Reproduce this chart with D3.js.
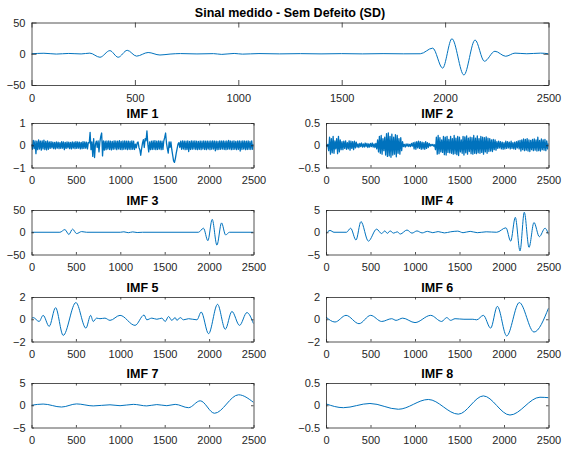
<!DOCTYPE html>
<html>
<head>
<meta charset="utf-8">
<style>
  body { margin: 0; background: #fff; }
  svg { display: block; }
</style>
</head>
<body>
<div id="chart"></div>
<script src="https://d3js.org/d3.v7.min.js"></script>
<script>
// ---- data ----
var xTicks = [0, 500, 1000, 1500, 2000, 2500];

var sdTicks = [-50, 0, 50];
var imf1Ticks = [-1, 0, 1];
var imf2Ticks = [-0.5, 0, 0.5];
var imf3Ticks = [-50, 0, 50];
var imf4Ticks = [-5, 0, 5];
var imf5Ticks = [-2, 0, 2];
var imf6Ticks = [-2, 0, 2];
var imf7Ticks = [-5, 0, 5];
var imf8Ticks = [-0.5, 0, 0.5];

// measured signal: [sample, value]
var sdSignal = [[0,0],[60,0.8],[120,-0.5],[180,0.5],[240,-0.3],[282,1],[331,-5.6],[379,5],[419,-5.6],[463,5.5],
  [508,-3.8],[564,2],[621,-2],[670,-0.5],[720,0.3],[800,-0.3],[880,0.2],[920,-1],[980,0.5],[1020,-0.6],
  [1100,0.3],[1200,-0.2],[1300,0.2],[1400,-0.2],[1500,0.2],[1600,-0.2],[1700,0.2],[1800,-0.1],[1880,0],
  [1940,9],[1988,-23],[2033,24],[2091,-34],[2145,22],[2190,-12],[2241,4],[2293,-4],[2338,1],[2395,0],
  [2462,1],[2500,0]];

// IMF 1 and IMF 2 are noisy, read every 10 samples
var noiseStep = 10;
var imf1 = [0.05,-0.18,0.22,-0.15,0.2,-0.38,0.18,-0.2,0.24,-0.17,
  0.19,-0.22,0.2,-0.16,0.23,-0.19,0.17,-0.21,0.2,-0.18,
  0.15,-0.14,0.16,-0.12,0.14,-0.15,0.13,-0.16,0.15,-0.13,
  0.14,-0.15,0.12,-0.14,0.16,-0.13,0.15,-0.2,0.13,-0.14,
  0.15,-0.12,0.14,-0.15,0.13,-0.16,0.15,-0.13,0.14,-0.15,
  0.16,-0.14,0.15,-0.13,0.14,-0.16,0.13,-0.15,0.16,-0.14,
  0.15,-0.13,0.14,-0.16,0.12,
  0.1,0.58,-0.2,0.15,-0.5,0.3,-0.55,0.05,0.18,-0.1,
  0.2,-0.3,0.15,0.4,0.55,-0.48,0.2,-0.22,
  0.18,-0.2,0.19,-0.17,0.2,-0.19,0.18,-0.21,0.17,-0.18,
  0.2,-0.17,0.19,-0.2,0.18,-0.16,0.21,-0.19,0.17,-0.2,
  0.19,-0.18,0.2,-0.17,0.18,-0.2,0.19,-0.18,0.17,-0.19,
  0.2,-0.18,0.18,-0.19,
  0.05,-0.12,0.1,0.15,-0.1,-0.2,-0.45,-0.15,0.1,0.25,
  -0.1,0.3,0.2,0.65,0.05,-0.3,0.15,-0.2,0.18,
  -0.19,0.2,-0.18,0.21,-0.2,0.18,-0.19,0.2,-0.17,0.19,-0.2,0.18,-0.19,
  0.2,0.35,0.55,0.1,-0.15,-0.35,0.15,
  -0.1,0.15,-0.2,-0.45,-0.7,-0.77,-0.6,-0.35,-0.15,0.05,0.12,-0.1,0.18,
  -0.18,0.2,-0.17,0.19,-0.2,0.18,-0.19,0.2,-0.28,0.17,
  -0.19,0.2,-0.18,0.19,-0.17,0.2,-0.19,0.18,-0.2,0.17,
  -0.18,0.19,-0.2,0.18,-0.17,0.2,-0.19,0.18,-0.2,0.19,
  -0.17,0.18,-0.2,0.19,-0.18,0.2,-0.17,0.19,-0.25,0.18,
  -0.2,0.17,-0.19,0.2,-0.18,0.19,-0.17,0.2,-0.19,0.18,
  -0.2,0.19,-0.18,0.22,-0.17,0.19,-0.2,0.18,-0.19,0.2,
  -0.18,0.17,-0.2,0.19,-0.18,0.2,-0.26,0.18,-0.19,0.2,
  -0.17,0.19,-0.2,0.18,-0.19,0.2,-0.18,0.17,-0.19,0.2,
  -0.18,0.05];

var imf2 = [0.01,-0.02,0.02,
  -0.12,0.18,-0.2,0.15,-0.17,0.2,-0.18,0.1,-0.08,0.15,-0.19,0.2,-0.15,0.12,-0.1,
  0.08,-0.1,0.09,-0.07,0.1,-0.09,0.06,-0.08,0.1,-0.11,0.09,-0.07,0.08,-0.1,0.09,-0.06,0.07,
  -0.04,0.03,-0.05,0.04,-0.03,0.05,-0.04,0.03,-0.04,0.05,-0.03,0.04,-0.05,0.03,-0.04,0.04,-0.03,0.05,-0.04,0.03,-0.05,0.04,
  -0.08,0.12,-0.15,0.2,-0.18,0.22,-0.2,0.15,-0.12,0.18,
  -0.22,0.26,-0.25,0.28,-0.24,0.2,-0.27,0.25,-0.22,0.18,
  -0.2,0.24,-0.26,0.22,-0.18,0.15,-0.2,0.17,-0.12,0.08,
  -0.03,0.02,-0.04,0.03,-0.02,0.03,-0.03,0.02,-0.03,0.04,-0.02,
  0.06,-0.08,0.07,-0.09,0.08,-0.06,0.09,-0.07,0.08,-0.09,0.07,-0.08,0.06,-0.09,0.08,-0.07,0.06,-0.05,0.04,
  -0.02,0.02,-0.01,0.02,-0.02,0.01,
  -0.1,0.18,-0.2,0.22,-0.19,0.17,-0.15,0.12,-0.16,0.2,
  -0.21,0.18,-0.22,0.2,-0.16,0.13,-0.17,0.2,-0.18,0.15,
  -0.2,0.22,-0.19,0.16,-0.21,0.2,-0.23,0.18,-0.15,0.12,
  -0.18,0.2,-0.22,0.19,-0.17,0.21,-0.2,0.16,-0.14,0.18,
  -0.19,
  0.17,-0.2,0.22,-0.18,0.16,-0.19,0.21,-0.17,0.15,-0.18,
  0.2,-0.16,0.18,-0.2,0.17,-0.15,0.19,-0.18,0.16,-0.14,
  0.15,-0.13,0.12,-0.14,0.13,-0.1,0.12,-0.11,
  0.08,-0.07,0.09,-0.06,0.08,-0.08,0.07,-0.09,0.06,-0.08,
  0.09,-0.07,0.08,-0.06,0.07,-0.08,0.09,-0.07,0.06,-0.08,
  0.07,-0.09,0.08,-0.06,0.1,-0.08,
  0.11,-0.13,0.12,-0.1,0.14,-0.12,0.13,-0.11,0.15,-0.13,
  0.12,-0.14,0.11,-0.1,0.13,-0.12,0.14,-0.11,0.12,-0.13,
  0.18,-0.12,0.11,-0.13,0.14,-0.1,0.12,-0.11,0.13,-0.12,
  0.1,-0.08,0.04];

// smoother IMFs: [sample, value] at peaks / troughs
var imf3 = [[0,0],[320,0],[376,6],[421,-5],[462,7],[508,-3],[564,1.5],[620,0],[1000,0],[1040,1],
  [1090,-1],[1140,0.8],[1190,-0.6],[1250,0],[1880,0],[1937,9],[1986,-19],[2035,29],[2088,-29],
  [2140,21],[2186,-6],[2230,0],[2500,0]];

var imf4 = [[0,-0.3],[45,0.4],[90,0],[230,0],[277,0.9],[337,-1.75],[393,2.4],[476,-2.0],[569,0.7],
  [625,-0.3],[660,0.3],[690,-0.25],[720,0.3],[760,-0.2],[800,0.1],[835,-0.4],[910,0.5],[966,-0.2],
  [1022,0.3],[1080,-0.15],[1140,0.2],[1200,-0.1],[1260,0.15],[1330,-0.15],[1400,0.1],[1480,0.25],
  [1540,-0.1],[1620,0.2],[1700,-0.1],[1800,0.1],[1918,0],[2022,1.0],[2075,-2.0],[2127,3.35],
  [2180,-4.2],[2228,4.5],[2281,-3.4],[2337,2.2],[2397,-1.0],[2461,0.9],[2500,-0.5]];

var imf5 = [[0,0.05],[19,0.15],[86,-0.2],[131,0.35],[199,-0.64],[271,1.04],[357,-1.45],[500,1.5],
  [613,-0.8],[666,0.35],[695,-0.2],[733,0.1],[771,0.05],[827,0.1],[884,-0.1],[997,0.35],[1166,-0.55],
  [1268,0.38],[1298,-0.05],[1355,0.1],[1411,0],[1468,0.1],[1506,-0.2],[1543,0.25],[1580,-0.1],
  [1618,0.15],[1637,-0.1],[1675,0.15],[1712,-0.05],[1769,0.05],[1863,-0.05],[1911,0.65],[1994,-1.3],
  [2095,1.34],[2182,-0.9],[2257,0.7],[2343,-0.55],[2426,0.6],[2500,-0.4]];

var imf6 = [[0,0.2],[101,-0.25],[225,0.35],[371,-0.4],[502,0.35],[626,-0.2],[738,0.05],[787,-0.1],
  [862,0.1],[1000,-0.3],[1176,0.35],[1300,-0.2],[1356,0.15],[1401,-0.1],[1450,0.05],[1550,0],
  [1650,0],[1693,-0.05],[1768,0.35],[1850,-0.8],[1925,1.16],[2030,-1.5],[2172,1.5],[2337,-1.15],
  [2500,1.0]];

var imf7 = [[0,0],[131,0.27],[338,-0.4],[508,0.3],[695,-0.15],[884,0.1],[997,-0.1],[1147,0.2],
  [1298,-0.15],[1411,0.15],[1524,-0.1],[1618,0.2],[1768,-0.55],[1900,1.0],[2061,-1.8],[2332,2.35],
  [2500,0.65]];

var imf8 = [[0,0.03],[195,-0.055],[494,0.04],[813,-0.09],[1150,0.13],[1487,-0.2],[1768,0.21],
  [2067,-0.22],[2404,0.18],[2500,0.17]];

// ---- layout ----
var W = 563, H = 450;
var font = "'Liberation Sans', Arial, Helvetica, sans-serif";
var axisColor = "#262626";
var lineColor = "#0072BD";

var colL = [31.5, 253.5], colR = [326, 548.5];
var rowTop = [123, 210, 297, 383], rowH = 44.5;

function toPairs(arr) {
  return arr.map(function(v, i) { return [i * noiseStep, v]; });
}

var panels = [
  {title: "Sinal medido - Sem Defeito (SD)", data: sdSignal, yt: sdTicks, x: [31.5, 548.5], y: [22.5, 85], tick: 5, curve: d3.curveMonotoneX, sw: 1},
  {title: "IMF 1", data: toPairs(imf1), yt: imf1Ticks, x: colL, y: [rowTop[0], rowTop[0] + rowH], tick: 2.5, curve: d3.curveLinear, sw: 1.3},
  {title: "IMF 2", data: toPairs(imf2), yt: imf2Ticks, x: colR, y: [rowTop[0], rowTop[0] + rowH], tick: 2.5, curve: d3.curveLinear, sw: 1.3},
  {title: "IMF 3", data: imf3, yt: imf3Ticks, x: colL, y: [rowTop[1], rowTop[1] + rowH], tick: 2.5, curve: d3.curveMonotoneX, sw: 1},
  {title: "IMF 4", data: imf4, yt: imf4Ticks, x: colR, y: [rowTop[1], rowTop[1] + rowH], tick: 2.5, curve: d3.curveMonotoneX, sw: 1},
  {title: "IMF 5", data: imf5, yt: imf5Ticks, x: colL, y: [rowTop[2], rowTop[2] + rowH], tick: 2.5, curve: d3.curveMonotoneX, sw: 1},
  {title: "IMF 6", data: imf6, yt: imf6Ticks, x: colR, y: [rowTop[2], rowTop[2] + rowH], tick: 2.5, curve: d3.curveMonotoneX, sw: 1},
  {title: "IMF 7", data: imf7, yt: imf7Ticks, x: colL, y: [rowTop[3], rowTop[3] + rowH], tick: 2.5, curve: d3.curveMonotoneX, sw: 1},
  {title: "IMF 8", data: imf8, yt: imf8Ticks, x: colR, y: [rowTop[3], rowTop[3] + rowH], tick: 2.5, curve: d3.curveMonotoneX, sw: 1}
];

var svg = d3.select("#chart").append("svg")
    .attr("width", W)
    .attr("height", H);

svg.append("rect").attr("width", W).attr("height", H).attr("fill", "#fff");

function styleAxis(g) {
  g.attr("color", axisColor)
    .attr("font-family", font)
    .attr("font-size", 11);
  g.select(".domain").attr("stroke-width", 0.8);
  g.selectAll(".tick line").attr("stroke-width", 0.8);
  g.selectAll(".tick text").attr("fill", axisColor);
}

panels.forEach(function(p, k) {
  var x = d3.scaleLinear().domain([0, 2500]).range(p.x);
  var y = d3.scaleLinear().domain([p.yt[0], p.yt[p.yt.length - 1]]).range([p.y[1], p.y[0]]);

  var g = svg.append("g");

  // clip the trace to the axes box
  var clipId = "clip" + k;
  svg.append("clipPath").attr("id", clipId)
    .append("rect")
      .attr("x", p.x[0]).attr("y", p.y[0])
      .attr("width", p.x[1] - p.x[0]).attr("height", p.y[1] - p.y[0]);

  var line = d3.line()
      .x(function(d) { return x(d[0]); })
      .y(function(d) { return y(d[1]); })
      .curve(p.curve);

  g.append("path")
      .datum(p.data)
      .attr("clip-path", "url(#" + clipId + ")")
      .attr("fill", "none")
      .attr("stroke", lineColor)
      .attr("stroke-width", p.sw)
      .attr("stroke-linejoin", "round")
      .attr("d", line);

  // axes, ticks inward on all four sides (box on)
  g.append("g")
      .attr("transform", "translate(0," + p.y[1] + ")")
      .call(d3.axisBottom(x).tickValues(xTicks).tickSizeInner(-p.tick).tickSizeOuter(0).tickPadding(9).tickFormat(d3.format("d")))
      .call(styleAxis);

  g.append("g")
      .attr("transform", "translate(0," + p.y[0] + ")")
      .call(d3.axisTop(x).tickValues(xTicks).tickSizeInner(-p.tick).tickSizeOuter(0).tickFormat(""))
      .call(styleAxis);

  g.append("g")
      .attr("transform", "translate(" + p.x[0] + ",0)")
      .call(d3.axisLeft(y).tickValues(p.yt).tickSizeInner(-p.tick).tickSizeOuter(0).tickPadding(6).tickFormat(d3.format("")))
      .call(styleAxis);

  g.append("g")
      .attr("transform", "translate(" + p.x[1] + ",0)")
      .call(d3.axisRight(y).tickValues(p.yt).tickSizeInner(-p.tick).tickSizeOuter(0).tickFormat(""))
      .call(styleAxis);

  g.append("text")
      .attr("x", (p.x[0] + p.x[1]) / 2)
      .attr("y", p.y[0] - 5.5)
      .attr("text-anchor", "middle")
      .attr("font-family", font)
      .attr("font-weight", "bold")
      .attr("font-size", 12.5)
      .attr("fill", "#000")
      .text(p.title);
});
</script>
</body>
</html>
